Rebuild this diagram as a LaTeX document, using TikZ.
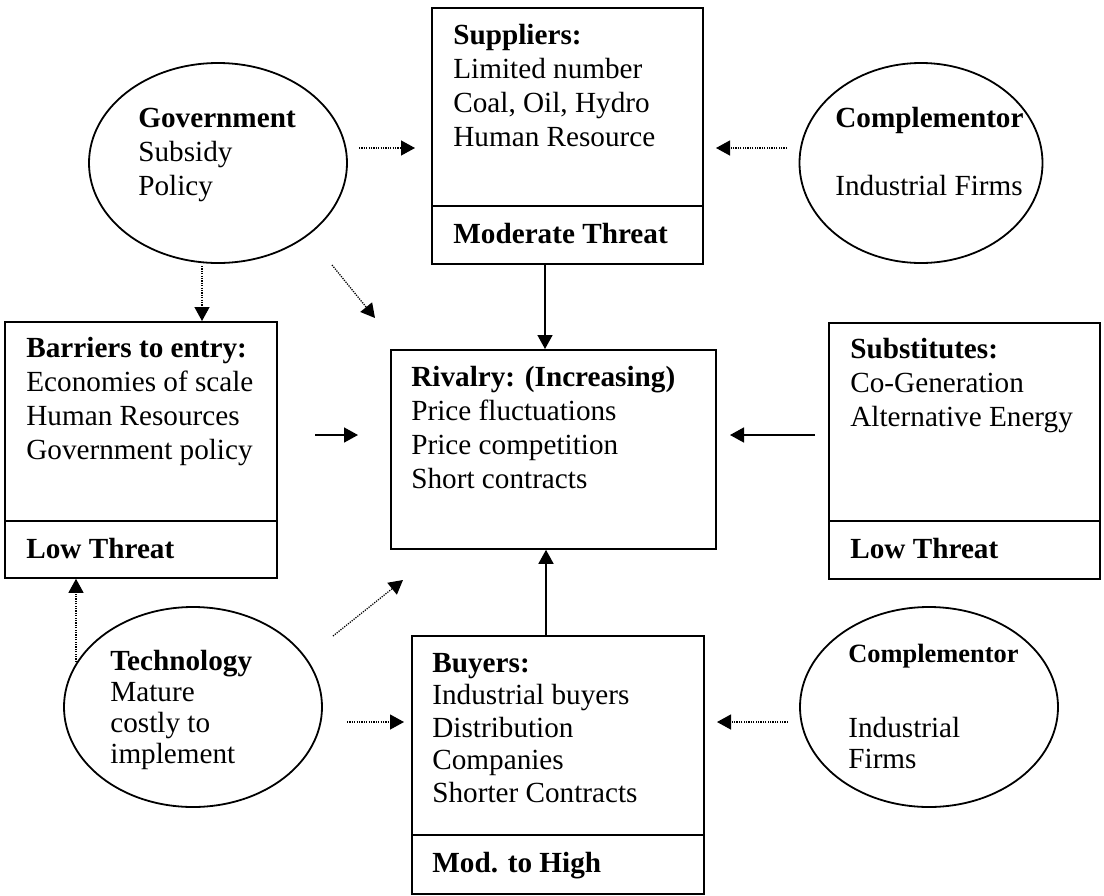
\documentclass[tikz,border=0pt]{standalone}
\usepackage{fontspec}
\setmainfont{Liberation Serif}
\usetikzlibrary{arrows.meta,shapes.geometric}
\begin{document}
\begin{tikzpicture}[x=0.5pt,y=-0.5pt,
  every node/.style={font=\fontsize{14.6pt}{17pt}\selectfont},
  boxnode/.style={draw,line width=0.9pt,rectangle,inner sep=0pt,anchor=north west},
  oval/.style={draw,line width=0.9pt,ellipse,inner sep=0pt},
  % multi-line texts are placed by the baseline of their last line
  txt/.style={align=left,inner sep=0pt,anchor=base west},
  solidarrow/.style={line width=0.8pt,-{Triangle[length=7pt,width=7.5pt]}},
  dotarrow/.style={line width=0.65pt,dash pattern=on 0.6pt off 0.6pt,-{Triangle[length=7pt,width=7.5pt]}}]
\useasboundingbox (0,0) rectangle (1104,895);

% five force boxes
\node[boxnode,minimum width=135.5pt,minimum height=128pt] (sup) at (431,7) {};
\node[boxnode,minimum width=136pt,minimum height=128pt] (bar) at (4,321) {};
\node[boxnode,minimum width=162.5pt,minimum height=99.5pt] (riv) at (390,349) {};
\node[boxnode,minimum width=135.5pt,minimum height=128pt] (sub) at (828,322) {};
\node[boxnode,minimum width=146pt,minimum height=129pt] (buy) at (411,635) {};

% threat-level dividers
\draw[line width=0.9pt] (sup.west |- 0,206) -- (sup.east |- 0,206);
\draw[line width=0.9pt] (bar.west |- 0,521) -- (bar.east |- 0,521);
\draw[line width=0.9pt] (sub.west |- 0,521) -- (sub.east |- 0,521);
\draw[line width=0.9pt] (buy.west |- 0,835) -- (buy.east |- 0,835);

% outside influences
\node[oval,minimum width=129pt,minimum height=100pt] (gov) at (218,163) {};
\node[oval,minimum width=121.5pt,minimum height=100pt] (compA) at (921,163) {};
\node[oval,minimum width=129pt,minimum height=100pt] (tech) at (193,707) {};
\node[oval,minimum width=129pt,minimum height=100pt] (compB) at (929,707) {};

% box texts
\node[txt] (supT) at (453,146) {\textbf{Suppliers:}\\Limited number\\Coal, Oil, Hydro\\Human Resource};
\node[txt] (supL) at (453,243) {\textbf{Moderate Threat}};
\node[txt] (barT) at (26,459) {\textbf{Barriers to entry:}\\Economies of scale\\Human Resources\\Government policy};
\node[txt] (barL) at (26,558) {\textbf{Low Threat}};
\node[txt] (rivT) at (411,488) {\textbf{Rivalry: (Increasing)}\\Price fluctuations\\Price competition\\Short contracts};
\node[txt] (subT) at (850,426) {\textbf{Substitutes:}\\Co-Generation\\Alternative Energy};
\node[txt] (subL) at (850,558) {\textbf{Low Threat}};
\node[txt,font=\fontsize{14.6pt}{16.25pt}\selectfont] (buyT) at (432,802) {\textbf{Buyers:}\\Industrial buyers\\Distribution\\Companies\\Shorter Contracts};
\node[txt] (buyL) at (432,872) {\textbf{Mod. to High}};

% ellipse texts
\node[txt] (govT) at (138,195) {\textbf{Government}\\Subsidy\\Policy};
\node[txt] (compAT) at (835,195) {\textbf{Complementor}\\[17pt]Industrial Firms};
\node[txt,font=\fontsize{14.6pt}{15.5pt}\selectfont] (techT) at (110,763) {\textbf{Technology}\\Mature\\costly to\\implement};
\node[txt,font=\fontsize{13.2pt}{15.5pt}\selectfont] (compBT) at (848,662) {\textbf{Complementor}};
\node[txt,font=\fontsize{14.6pt}{15.5pt}\selectfont] (compBT2) at (848,768) {Industrial\\Firms};

% connector ends
\coordinate (colA) at (545,0);
\coordinate (colB) at (202,0);
\coordinate (colC) at (546,0);
\coordinate (colD) at (76,0);
\coordinate (g1) at (359,148);  \coordinate (g2) at (415,148);
\coordinate (c1) at (787,148);  \coordinate (c2) at (716,148);
\coordinate (gd1) at (332,265); \coordinate (gd2) at (375,318);
\coordinate (b1) at (315,435);  \coordinate (b2) at (358,435);
\coordinate (s1) at (815,435);  \coordinate (s2) at (730,435);
\coordinate (td1) at (333,636); \coordinate (td2) at (403,580);
\coordinate (t1) at (347,722);  \coordinate (t2) at (404,722);
\coordinate (k1) at (788,722);  \coordinate (k2) at (717,722);
\coordinate (tv) at (76,662);

% connectors
\draw[dotarrow] (g1) -- (g2);
\draw[dotarrow] (c1) -- (c2);
\draw[solidarrow] (sup.south -| colA) -- (riv.north -| colA);
\draw[dotarrow] (colB |- 0,266) -- (bar.north -| colB);
\draw[dotarrow] (gd1) -- (gd2);
\draw[solidarrow] (b1) -- (b2);
\draw[solidarrow] (s1) -- (s2);
\draw[dotarrow] (tv) -- (bar.south -| colD);
\draw[dotarrow] (td1) -- (td2);
\draw[dotarrow] (t1) -- (t2);
\draw[solidarrow] (buy.north -| colC) -- (riv.south -| colC);
\draw[dotarrow] (k1) -- (k2);
\end{tikzpicture}
\end{document}
